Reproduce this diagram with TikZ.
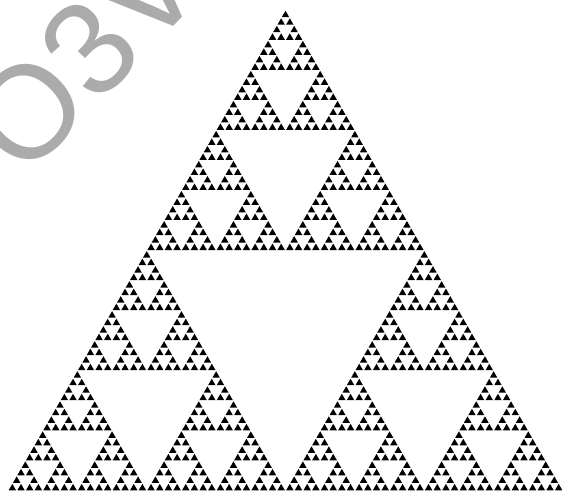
\documentclass[tikz,border=0pt]{standalone}
\usepackage{fontspec}
\newfontfamily\markfont{Liberation Sans}
\definecolor{skInk}{HTML}{000000}
\definecolor{skMark}{HTML}{ABABAB}
\tikzset{
  cell/.style  ={fill=skInk},
  wmark/.style ={text=skMark,inner sep=0pt,
                 font=\markfont\fontsize{132}{132}\selectfont},
}
% one level of the gasket: three half-size copies, a filled cell at the bottom
\newcommand\sierpinski[1]{%
  \ifnum#1=0\relax
    \fill[cell] (0.07,0.0404) -- (0.93,0.0404) -- (0.5,0.7852) -- cycle;
  \else
    \begin{scope}[scale=0.5]
      \sierpinski{\the\numexpr#1-1\relax}
    \end{scope}
    \begin{scope}[shift={(0.5,0)},scale=0.5]
      \sierpinski{\the\numexpr#1-1\relax}
    \end{scope}
    \begin{scope}[shift={(0.25,0.4330)},scale=0.5]
      \sierpinski{\the\numexpr#1-1\relax}
    \end{scope}
  \fi}

\begin{document}
\begin{tikzpicture}[x=1pt,y=1pt]
\useasboundingbox (0,0) rectangle (562,495);
\clip (0,0) rectangle (562,495);
\node[wmark,rotate=46] (wm) at (84,441) {O3V};
\begin{scope}[shift={(8,4.3)},x=555pt,y=555pt]
  \sierpinski{6}
\end{scope}
\end{tikzpicture}
\end{document}
